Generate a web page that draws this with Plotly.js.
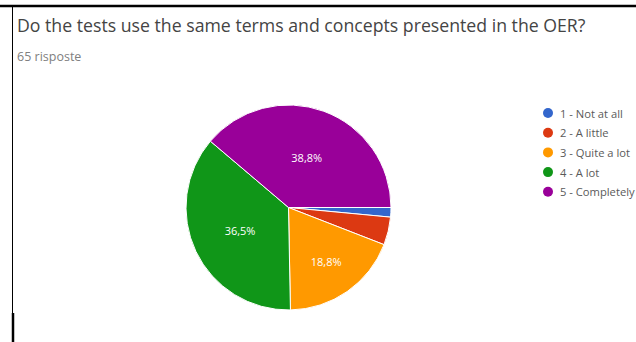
<!DOCTYPE html>
<html>
<head>
<meta charset="utf-8">
<script src="https://cdn.plot.ly/plotly-3.0.1.min.js"></script>
<style>
html,body{margin:0;padding:0;background:#fff;}
#chart{width:636px;height:342px;}
</style>
</head>
<body>
<div id="chart"></div>
<script>
// Data
const categories = ["1 - Not at all", "2 - A little", "3 - Quite a lot", "4 - A lot", "5 - Completely"];
const shares = [1.5, 4.4, 18.8, 36.5, 38.8];
const colors = ["#3366cc", "#dc3912", "#ff9900", "#109618", "#990099"];
const showLabel = [false, false, true, true, true];
const titleText = "Do the tests use the same terms and concepts presented in the OER?";
const subtitleText = "65 risposte";

const W = 636, H = 342;
const px = x => x / W;
const py = y => 1 - y / H;

const pie = {
  type: "pie",
  values: shares,
  labels: categories,
  sort: false,
  direction: "clockwise",
  rotation: 90,
  marker: {colors: colors, line: {color: "#ffffff", width: 1}},
  texttemplate: showLabel.map(s => s ? "%{percent:.1%}" : ""),
  textposition: "inside",
  insidetextorientation: "horizontal",
  insidetextfont: {color: "#ffffff", size: 11, family: "Open Sans"},
  hoverinfo: "none",
  showlegend: false,
  domain: {x: [px(186), px(391)], y: [py(310), py(105)]}
};

const shapes = [
  {type: "line", xref: "paper", yref: "paper", x0: 0, x1: 1, y0: py(6), y1: py(6), line: {color: "#000", width: 2.5}},
  {type: "line", xref: "paper", yref: "paper", x0: px(12.5), x1: px(12.5), y0: py(6), y1: 0, line: {color: "#000", width: 1}},
  {type: "line", xref: "paper", yref: "paper", x0: px(13), x1: px(13), y0: py(313), y1: 0, line: {color: "#000", width: 2.5}}
];
const annotations = [
  {text: titleText, xref: "paper", yref: "paper", x: px(15), y: py(25), xanchor: "left", yanchor: "middle", showarrow: false,
   font: {family: "Open Sans", size: 17.7, color: "#444444"}},
  {text: subtitleText, xref: "paper", yref: "paper", x: px(15), y: py(57), xanchor: "left", yanchor: "middle", showarrow: false,
   font: {family: "Open Sans", size: 12.5, color: "#808080"}}
];
categories.forEach((c, i) => {
  const cy = 113 + i * 19.7;
  shapes.push({type: "circle", xref: "paper", yref: "paper", x0: px(543), x1: px(553), y0: py(cy + 5), y1: py(cy - 5),
    fillcolor: colors[i], line: {width: 0}});
  annotations.push({text: c, xref: "paper", yref: "paper", x: px(558), y: py(cy), xanchor: "left", yanchor: "middle",
    showarrow: false, font: {family: "Open Sans", size: 11.2, color: "#5a5a5a"}});
});

const layout = {
  width: W, height: H,
  margin: {l: 0, r: 0, t: 0, b: 0},
  paper_bgcolor: "#ffffff",
  separators: ",.",
  shapes: shapes,
  annotations: annotations
};
Plotly.newPlot("chart", [pie], layout, {displayModeBar: false, staticPlot: true});
</script>
</body>
</html>
